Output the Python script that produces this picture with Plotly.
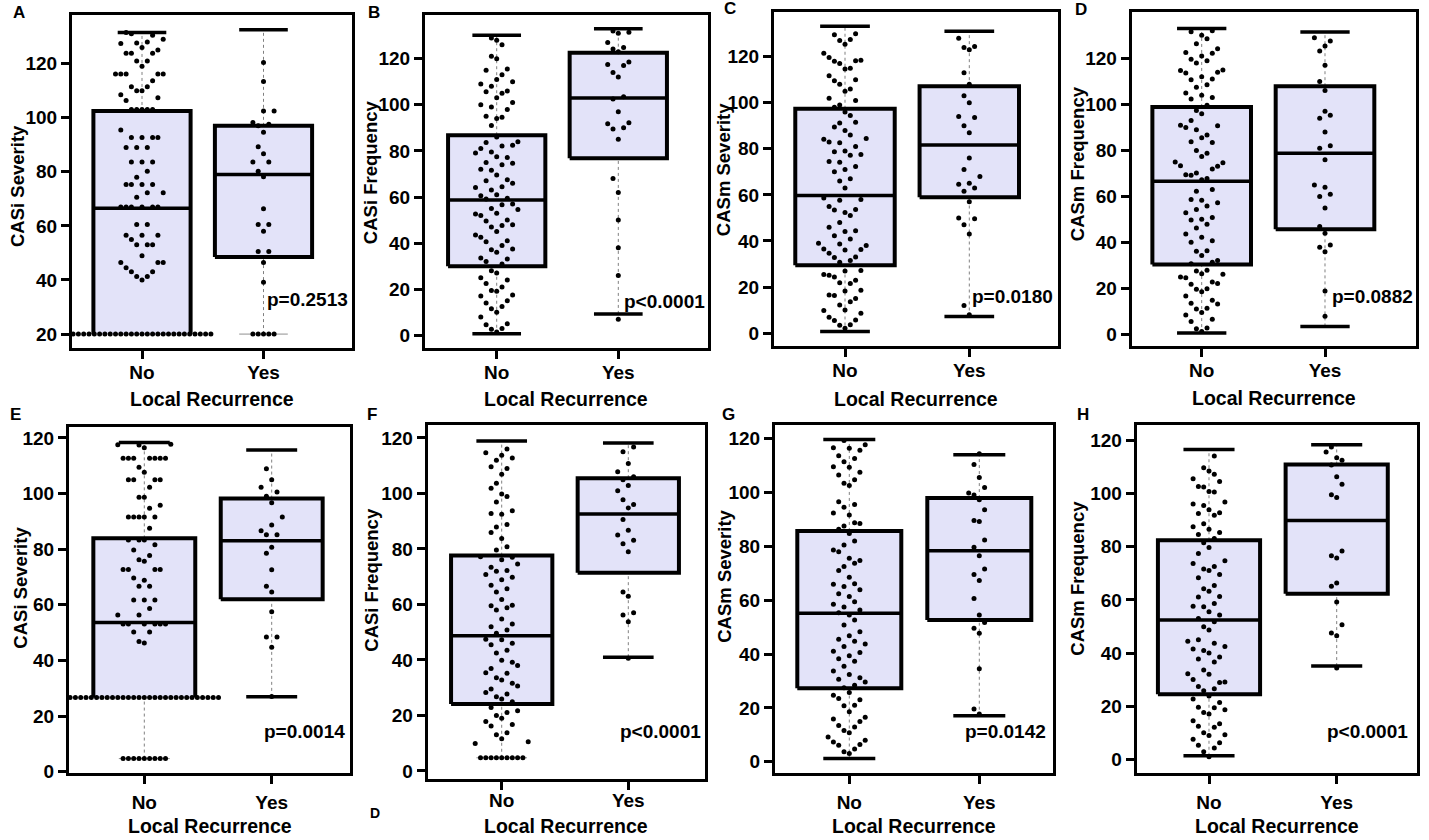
import plotly.graph_objects as go

W, H = 1429, 840

# ---------------- data ----------------
categories = ["No", "Yes"]
panel_letters = ["A", "B", "C", "D", "E", "F", "G", "H"]
y_titles = ["CASi Severity", "CASi Frequency", "CASm Severity", "CASm Frequency",
            "CASi Severity", "CASi Frequency", "CASm Severity", "CASm Frequency"]
x_title = "Local Recurrence"
p_values = ["p=0.2513", "p<0.0001", "p=0.0180", "p=0.0882",
            "p=0.0014", "p<0.0001", "p=0.0142", "p<0.0001"]
y_ticks_A = [20, 40, 60, 80, 100, 120]
y_ticks = [0, 20, 40, 60, 80, 100, 120]

A_no = [131.5, 131, 130.5, 129, 128, 127.6, 127.4, 126, 125, 123.8, 123.8, 123.8, 121, 121, 119,
        116.2, 116.2, 116.2, 116.2, 116.2, 113.7, 111.4, 111.4, 110, 110, 108.5, 107.4, 106.4,
        103, 103, 103, 103, 103, 95.5, 92.7, 92.7, 92.7, 92.7, 89, 89, 89, 83.6, 83.6, 83.6,
        80.2, 78, 75.3, 75.3, 75.3, 75.3, 72.3, 72.3, 70.6, 67, 67, 67, 67, 67, 67, 60.5, 60.5,
        56.5, 56.5, 56.5, 55, 53, 53, 53, 49, 46.5, 46.5, 46.5, 44.5, 43, 43, 41.3, 41.3, 40,
        20, 20, 20, 20, 20, 20, 20, 20, 20, 20, 20, 20, 20, 20, 20, 20, 20, 20, 20, 20, 20, 20,
        20, 20, 20, 20, 20, 20]
A_yes = [120.4, 113.4, 102.5, 102.5, 98.2, 97.6, 97, 94.6, 89.3, 86.7, 83.6, 83.6, 80.2, 78.2,
         66.3, 60.5, 60.5, 58, 50.5, 50.5, 46.5, 39.2, 20, 20, 20, 20, 20]

B_no = [129, 128, 126, 121, 120, 115.5, 115, 113, 111, 110, 109, 108, 106, 105.6, 105, 103, 101,
        100, 99, 98, 95, 94.6, 94, 91, 86, 84, 83.6, 82.5, 82.1, 81, 79.5, 79.1, 77.5, 77.1, 75,
        74.6, 74, 72, 71.6, 69.5, 67.5, 67.1, 66, 64.5, 64.1, 63, 61, 60.6, 59.5, 59.1, 57, 56.6,
        55, 54.6, 53, 52.6, 52, 50, 49.6, 48, 47.6, 47, 45, 43.5, 42.5, 41, 40.6, 39, 37.5, 37.1,
        36, 33.5, 33.1, 32, 31, 28, 27, 25, 24, 22.5, 21, 19.5, 19.1, 17.5, 17.1, 15, 14, 12.5,
        11.5, 10, 8, 5, 4.6, 3, 2.6, 1.5]
B_yes = [132, 131.5, 131, 127, 124.8, 124.2, 123, 118.5, 117.5, 117, 114, 112, 103.5, 102.5, 97,
         92.2, 91.8, 90, 89.5, 85, 68, 62, 50, 38, 26, 7]

C_no = [130, 129.5, 127.5, 127, 125.4, 121.5, 119.6, 118.5, 118.2, 118, 117, 115, 114.6, 111.7,
        110, 109.6, 108, 106, 105, 102, 101, 99, 98, 96, 94.5, 91.5, 91.2, 89.5, 88, 86, 84.5,
        84.2, 83, 82.6, 81, 79, 78.7, 77.5, 77.2, 74.5, 74.2, 72.3, 71, 70, 67, 66, 63, 58.7, 58,
        57.7, 55, 53.7, 53.4, 52.3, 51, 48, 46, 44.4, 44.1, 42.3, 40.8, 39, 38.7, 38, 36.5, 36.3,
        36.1, 34.7, 33, 32.8, 31.5, 30.8, 27.2, 27, 25.4, 25.1, 24.3, 22.9, 21.8, 21.5, 18.6,
        18.3, 16.5, 16.3, 15, 13.6, 12.2, 10, 9.8, 8.6, 6.9, 5.7, 5.5, 3.6, 3.4, 2.1]
C_yes = [128, 124.4, 124, 123, 113, 108, 103, 100, 94, 93.6, 90, 87, 76, 71, 68, 65, 64.6, 63,
         61.6, 57, 50, 49.6, 47, 43, 12, 8]

D_no = [132, 131.6, 130, 128.5, 126.4, 124.2, 122.5, 122.2, 121, 119.6, 119, 118, 115, 114.7, 114,
        113.7, 112, 111, 110.7, 108.5, 107.5, 105, 104, 103, 102.4, 99.6, 97.4, 96, 93, 91, 90.7,
        90, 89, 86.7, 85.5, 83.8, 83.5, 80, 78.8, 77.4, 75, 74.7, 73.4, 73.1, 72, 70.2, 69.5, 69.2,
        67.8, 67.3, 63, 62.3, 58.7, 58.4, 57.3, 55.9, 54.4, 53, 50.9, 50.1, 49.8, 48, 46.3, 43.7,
        42.3, 40.8, 40.1, 36.5, 36.2, 34.4, 32.2, 31.5, 30.8, 28, 27.7, 26.5, 26.2, 25, 24.7, 22.9,
        22.2, 21.9, 20, 19.7, 18.6, 16.8, 15, 13.6, 13.3, 11.5, 11.2, 9.6, 8.6, 6.7, 5.7, 2.9,
        2.6, 1.4]
D_yes = [129, 127.5, 125.4, 123.2, 117, 110, 106, 97, 95.3, 94, 88, 82, 81, 76, 65, 64, 61, 60,
         55, 47, 44, 39, 38, 36, 19, 8]

E_no = [117.7, 117.6, 117.5, 116.5, 112.7, 112.7, 112.7, 112.7, 112.7, 112.7, 112.7, 109.5, 107.7,
        105, 105, 105, 105, 102.3, 98.7, 98.7, 95.8, 94.7, 91.6, 91.6, 91.6, 91.6, 91.6, 87.5,
        83.3, 83.3, 83.3, 81.6, 79.7, 77.7, 76.2, 75.7, 72.7, 72.7, 72.7, 72.7, 69.6, 68.8, 66.7,
        66.7, 61.7, 61.7, 61.7, 58.7, 56.3, 56.3, 53.1, 53.1, 53.1, 53.1, 53.1, 53.1, 50.2, 50.2,
        46.8, 46.3,
        26.7, 26.7, 26.7, 26.7, 26.7, 26.7, 26.7, 26.7, 26.7, 26.7, 26.7, 26.7, 26.7, 26.7, 26.7,
        26.7, 26.7, 26.7, 26.7, 26.7, 26.7, 26.7, 26.7, 26.7, 26.7, 26.7, 26.7, 26.7, 26.7,
        4.7, 4.7, 4.7, 4.7, 4.7, 4.7, 4.7, 4.7, 4.7]
E_yes = [108.9, 105, 102.3, 100.6, 99, 96.7, 91.6, 88.7, 86.6, 85.2, 85.2, 80.7, 78.5, 72.6, 66.7,
         64.6, 57.5, 48.4, 48.4, 44.7, 27]

F_no = [116, 114.7, 113.8, 112.8, 112, 109.6, 109, 106.9, 103.7, 101.9, 99.8, 98.9, 96.9, 93.8,
        92.8, 92.5, 88.8, 87.9, 85.9, 83.8, 80.8, 79.6, 77.2, 77, 76.1, 74.6, 73.4, 72.2, 72, 70.8,
        69.8, 68.9, 66.9, 65.7, 64.5, 61.8, 59.7, 59.5, 58.8, 58, 54.8, 53, 52, 50.8, 49.6, 47.5,
        47.3, 46, 45.5, 43.5, 42.5, 39.9, 39.2, 38, 36.9, 35.4, 35.2, 33.6, 32.8, 31.6, 30.6, 29.5,
        28.3, 27.7, 26.7, 25.9, 24.9, 22.9, 21.7, 21.1, 20, 19, 17.8, 16.7, 16.2, 13.8, 13, 11.6,
        10.5, 9.9, 4.75, 4.75, 4.75, 4.75, 4.75, 4.75, 4.75, 4.75, 4.75]
F_yes = [116.7, 115, 110.8, 107.8, 106, 104.9, 102.9, 101, 97.7, 96, 94.8, 90.6, 86.7, 85, 83.1,
         81.9, 79, 64.5, 63, 57, 56.2, 53.8, 40.6]

G_no = [119.3, 117.7, 116.6, 116.4, 115.7, 113.6, 112.6, 111.4, 109.5, 109.3, 107.5, 106.5, 104.7,
        103.4, 102.6, 96.5, 95.5, 94.5, 92.4, 91.6, 88.7, 88.5, 87.5, 86.3, 84.7, 82, 80.5, 78.6,
        78, 75.6, 74.7, 73.7, 72.5, 71, 68.5, 66.1, 65.9, 65.1, 63.9, 62.4, 61.4, 59.4, 58.5, 57.5,
        56.3, 55.3, 54.5, 52.6, 50.8, 48.3, 46.8, 45.5, 44.7, 43.7, 42.8, 41, 40.6, 39.4, 38.2,
        37.3, 35.5, 33.7, 32.4, 31.2, 30.6, 29.6, 28.4, 27.5, 25.7, 24.7, 23.5, 23, 21, 20.8, 18.6,
        16.5, 15.9, 14.9, 13.5, 12.9, 11.6, 10.8, 9.2, 8, 7.3, 6.4, 6.1, 4.7, 3.7, 3.1]
G_yes = [114.4, 110.4, 105.5, 101.8, 99.8, 99, 97.3, 93.6, 89.6, 89.2, 82.3, 79.6, 76.5, 71.6,
         69.5, 67.3, 60.6, 54.5, 51.7, 49.6, 47.7, 34.5, 19.6, 17.7]

H_no = [114.1, 109.7, 108.4, 107.2, 105.5, 104.5, 102.6, 102.4, 100.7, 100.5, 96.8, 96, 95.5, 93.9,
        92.7, 92.5, 91.8, 88.6, 87.5, 86.5, 85.3, 84.6, 83.1, 81.5, 79.7, 77.4, 74.7, 73.7, 72.5,
        71.6, 71, 69.5, 68.3, 65.4, 64.2, 63.2, 61.3, 61.1, 58.6, 57.6, 57.4, 55.5, 54.3, 53, 51.8,
        49.9, 48.7, 45, 44.4, 43.7, 42.5, 41.5, 41, 40, 38.5, 37.8, 36.6, 33.6, 32.2, 32, 30.1,
        29.1, 28.9, 27.4, 26.6, 25.8, 23.9, 22.7, 21.4, 19.6, 19.4, 18.7, 17.7, 17.1, 14.6, 13.4,
        12.5, 12.1, 10, 9.3, 9, 7.6, 6.3, 5.3, 4.3, 2.9, 1]
H_yes = [117.5, 115.6, 113.4, 112.5, 110.7, 106.3, 103.5, 99.5, 98.5, 78.4, 76.6, 75.7, 66.3, 65.1,
         59.2, 50.6, 47.5, 46.5, 34.4]

points = [(A_no, A_yes), (B_no, B_yes), (C_no, C_yes), (D_no, D_yes),
          (E_no, E_yes), (F_no, F_yes), (G_no, G_yes), (H_no, H_yes)]

# box statistics per panel: [No, Yes]
box_q1 = [[20, 48.5], [30, 76.8], [29.4, 59], [30.5, 45.8], [26.7, 62], [24.1, 71.4], [27.3, 52.6], [24.5, 62.3]]
box_med = [[66.5, 79], [58.7, 102.9], [59.7, 81.7], [66.6, 78.8], [53.6, 83], [48.7, 92.6], [55.1, 78.3], [52.4, 89.8]]
box_q3 = [[102.5, 97], [86.8, 122.6], [97.4, 107.2], [98.9, 107.9], [83.9, 98.2], [77.6, 105.5], [85.7, 97.9], [82.4, 110.9]]
box_min = [[20, 20], [0.7, 9.3], [0.7, 7.2], [0.7, 3.6], [4.7, 26.9], [4.75, 41], [1.2, 17.1], [1.4, 35.1]]
box_max = [[131.5, 132.5], [130.2, 133], [133.2, 131], [133, 131.4], [118.4, 115.7], [118.9, 118.2], [119.6, 114], [116.5, 118.3]]

# ---------------- layout geometry (pixels) ----------------
# L, R, T, B, px(No), px(Yes), v1, py(v1), v2, py(v2)
geom = [
    (72, 351.5, 15, 352, 142, 263.5, 20, 337.7, 120, 64.3),
    (425, 707.7, 15, 351.7, 496.7, 618.3, 0, 339, 120, 59.3),
    (774, 1058.3, 11.7, 350, 845, 969.3, 0, 336.7, 120, 57.3),
    (1131.7, 1415.7, 12.3, 350, 1201.7, 1325, 0, 338.3, 120, 59),
    (69, 350, 431.7, 781.7, 144.3, 271.7, 0, 780, 120, 442.7),
    (427.7, 705, 430, 787, 501.7, 628.3, 0, 779.3, 120, 442.7),
    (775, 1052.7, 430, 781.7, 849.3, 979.3, 0, 770, 120, 443.3),
    (1136.7, 1416.7, 430, 781.7, 1209, 1336.7, 0, 767.7, 120, 445),
]
xlabel_standoff = [-3, -3, -3, -3, 2, -5, 2, 2]
letter_pos = [(19, 13), (374, 13), (730, 9), (1081, 10), (16, 419), (372, 419), (728, 419), (1083, 419)]
ytitle_pos = [(18, 188), (370, 174), (723, 172), (1077, 166), (21, 594), (372, 586), (725, 583), (1078, 585)]
xtitle_y = [403, 403, 403, 402, 835, 835, 835, 835]
p_pos = [(265, 303), (622, 305), (970, 300), (1330, 300), (262, 739), (618, 739), (963, 739), (1325, 739)]
hide_box_bottom = [[True, False], [False, False], [False, False], [False, False],
                   [True, False], [False, False], [False, False], [False, False]]
thin_low_cap = [[True, True], [False, False], [False, False], [False, False],
                [True, False], [True, False], [False, False], [False, False]]

BOX_HALF = 0.40
CAP_HALF = 0.20
FILL = "#E3E3F9"
FONT = "Liberation Sans, Arial, sans-serif"


def swarm_offsets(vals, px_per_unit, dx=5.3, dy=18.0):
    """Simple beeswarm: horizontal pixel offsets avoiding overlap."""
    order = sorted(range(len(vals)), key=lambda i: vals[i])
    placed = []
    offs = [0.0] * len(vals)
    for i in order:
        y = vals[i] * px_per_unit
        neigh = [p for p in placed if abs(p[1] - y) < dy]
        cands = [0.0] + [p[0] + dx for p in neigh] + [p[0] - dx for p in neigh]
        cands.sort(key=lambda c: (abs(c), c))
        chosen = 0.0
        for c in cands:
            if all(abs(c - p[0]) >= dx - 1e-6 for p in neigh):
                chosen = c
                break
        offs[i] = chosen
        placed.append((chosen, y))
    return offs


fig = go.Figure()
layout = dict(
    width=W, height=H, margin=dict(l=0, r=0, t=0, b=0),
    paper_bgcolor="white", plot_bgcolor="white", showlegend=False,
    font=dict(family=FONT, color="black"),
)
annotations = []

for k in range(8):
    n = k + 1
    L, R, T, B, pNo, pYes, v1, p1, v2, p2 = geom[k]
    sx = pYes - pNo                      # px per x unit
    sy = (p1 - p2) / (v2 - v1)           # px per y unit
    xr = [(L - pNo) / sx, (R - pNo) / sx]
    yr = [v1 - (B - p1) / sy, v1 + (p1 - T) / sy]
    xa = "x" if n == 1 else f"x{n}"
    ya = "y" if n == 1 else f"y{n}"

    layout[f"xaxis{n}"] = dict(
        domain=[L / W, R / W], range=xr, anchor=ya,
        tickvals=[0, 1], ticktext=categories,
        showline=True, mirror=True, linewidth=3, linecolor="black",
        ticks="outside", ticklen=8, tickwidth=3, tickcolor="black",
        ticklabelstandoff=xlabel_standoff[k],
        showgrid=False, zeroline=False, fixedrange=True,
        tickfont=dict(size=19, family=FONT, color="black", weight="bold"),
    )
    layout[f"yaxis{n}"] = dict(
        domain=[1 - B / H, 1 - T / H], range=yr, anchor=xa,
        tickvals=y_ticks_A if k == 0 else y_ticks,
        showline=True, mirror=True, linewidth=3, linecolor="black",
        ticks="outside", ticklen=8, tickwidth=3, tickcolor="black",
        showgrid=False, zeroline=False, fixedrange=True,
        tickfont=dict(size=19, family=FONT, color="black", weight="bold"),
    )

    for g in range(2):
        c = g
        q1, md, q3 = box_q1[k][g], box_med[k][g], box_q3[k][g]
        lo, hi = box_min[k][g], box_max[k][g]
        # box fill
        fig.add_trace(go.Scatter(
            x=[c - BOX_HALF, c + BOX_HALF, c + BOX_HALF, c - BOX_HALF, c - BOX_HALF],
            y=[q1, q1, q3, q3, q1], mode="lines", fill="toself", fillcolor=FILL,
            line=dict(width=0), hoverinfo="skip", xaxis=xa, yaxis=ya))
        # whiskers (dotted)
        fig.add_trace(go.Scatter(
            x=[c, c, None, c, c], y=[lo, q1, None, q3, hi], mode="lines",
            line=dict(color="#808080", width=1, dash="dot"), hoverinfo="skip",
            xaxis=xa, yaxis=ya))
        # box outline
        if hide_box_bottom[k][g]:
            bx = [c - BOX_HALF, c - BOX_HALF, c + BOX_HALF, c + BOX_HALF]
            by = [q1, q3, q3, q1]
        else:
            bx = [c - BOX_HALF, c + BOX_HALF, c + BOX_HALF, c - BOX_HALF, c - BOX_HALF]
            by = [q1, q1, q3, q3, q1]
        fig.add_trace(go.Scatter(x=bx, y=by, mode="lines",
                                 line=dict(color="black", width=4), hoverinfo="skip",
                                 xaxis=xa, yaxis=ya))
        # median
        fig.add_trace(go.Scatter(x=[c - BOX_HALF, c + BOX_HALF], y=[md, md], mode="lines",
                                 line=dict(color="black", width=3.5), hoverinfo="skip",
                                 xaxis=xa, yaxis=ya))
        # caps
        fig.add_trace(go.Scatter(x=[c - CAP_HALF, c + CAP_HALF], y=[hi, hi], mode="lines",
                                 line=dict(color="black", width=3.5), hoverinfo="skip",
                                 xaxis=xa, yaxis=ya))
        if thin_low_cap[k][g]:
            lc = dict(color="#909090", width=1)
        else:
            lc = dict(color="black", width=3.5)
        fig.add_trace(go.Scatter(x=[c - CAP_HALF, c + CAP_HALF], y=[lo, lo], mode="lines",
                                 line=lc, hoverinfo="skip", xaxis=xa, yaxis=ya))
        # dots
        vals = points[k][g]
        offs = swarm_offsets(vals, sy)
        fig.add_trace(go.Scatter(
            x=[c + o / sx for o in offs], y=vals, mode="markers",
            marker=dict(color="black", size=5, line=dict(width=0)),
            hoverinfo="y", xaxis=xa, yaxis=ya, cliponaxis=False))

    # annotations
    lx, ly = letter_pos[k]
    annotations.append(dict(text=panel_letters[k], x=lx / W, y=1 - ly / H, xref="paper", yref="paper",
                            showarrow=False, xanchor="center", yanchor="middle",
                            font=dict(size=17, family=FONT, color="black", weight="bold")))
    tx, ty = ytitle_pos[k]
    annotations.append(dict(text=y_titles[k], x=tx / W, y=1 - ty / H, xref="paper", yref="paper",
                            showarrow=False, xanchor="center", yanchor="middle", textangle=-90,
                            font=dict(size=18.5, family=FONT, color="black", weight="bold")))
    annotations.append(dict(text=x_title, x=(L + R) / 2 / W, y=1 - xtitle_y[k] / H,
                            xref="paper", yref="paper", showarrow=False,
                            xanchor="center", yanchor="middle",
                            font=dict(size=19.5, family=FONT, color="black", weight="bold")))
    px_, py_ = p_pos[k]
    annotations.append(dict(text=p_values[k], x=px_ / W, y=1 - py_ / H, xref="paper", yref="paper",
                            showarrow=False, xanchor="left", yanchor="middle",
                            font=dict(size=19, family=FONT, color="black", weight="bold")))

# stray label present in the original figure
annotations.append(dict(text="D", x=375 / W, y=1 - 822 / H, xref="paper", yref="paper",
                        showarrow=False, xanchor="center", yanchor="middle",
                        font=dict(size=14, family=FONT, color="black", weight="bold")))

layout["annotations"] = annotations
fig.update_layout(**layout)
fig.write_html("out.html")
